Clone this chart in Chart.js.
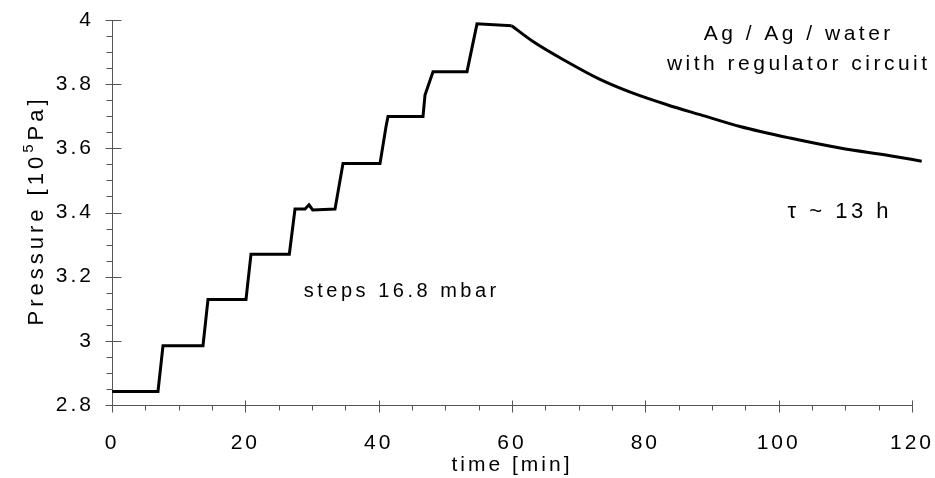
<!DOCTYPE html>
<html><head><meta charset="utf-8">
<script src="https://cdn.jsdelivr.net/npm/chart.js@4"></script>
<style>html,body{margin:0;padding:0;background:#fff}#wrap{width:935px;height:478px}</style>
</head><body><div id="wrap"><canvas id="c" width="935" height="478"></canvas></div>
<script>
// ---- data ----
// stepped filling phase (min, 10^5 Pa)
const stepTime = [0, 6.9, 7.65, 13.65, 14.4, 20.1, 20.85, 26.6, 27.45, 28.95, 29.55, 30.1, 33.45, 34.65,
  40.2, 41.1, 41.4, 46.65, 46.95, 48.15, 53.25, 54.75, 59.95];
const stepPressure = [2.842, 2.842, 2.985, 2.985, 3.129, 3.129, 3.270, 3.270, 3.411, 3.411, 3.424, 3.408, 3.411, 3.553,
  3.553, 3.667, 3.699, 3.699, 3.766, 3.839, 3.839, 3.988, 3.982];
// relaxation phase
const decayTime = [59.95, 63.15, 68.25, 73.2, 78.15, 83.25, 88.2, 94.2, 101.7, 109.2, 116.7, 121.45];
const decayPressure = [3.982, 3.933, 3.870, 3.815, 3.772, 3.736, 3.705, 3.668, 3.632, 3.601, 3.577, 3.560];

const xTickValues = [0, 20, 40, 60, 80, 100, 120];
const xTickLabels = ['0', '20', '40', '60', '80', '100', '120'];
const yTickValues = [2.8, 3, 3.2, 3.4, 3.6, 3.8, 4];
const yTickLabels = ['2.8', '3', '3.2', '3.4', '3.6', '3.8', '4'];
const xMinorStep = 5;
const yMinorStep = 0.05;
const xTitle = 'time [min]';
const yTitleParts = ['Pressure [10', '5', 'Pa]'];
const noteTexts = ['Ag / Ag / water', 'with regulator circuit', '\u03C4 ~ 13 h', 'steps 16.8 mbar'];

// ---- chart ----
const FONT = "'Liberation Sans', Arial, sans-serif";
const LS = 3;
const toPoints = (ts, ps) => ts.map((t, i) => ({x: t, y: ps[i]}));

const spacingPlugin = {
  id: 'spacing',
  beforeLayout(chart) { chart.ctx.letterSpacing = LS + 'px'; },
  beforeDraw(chart) { chart.ctx.letterSpacing = LS + 'px'; }
};

const tickPlugin = {
  id: 'minorTicks',
  afterDraw(chart) {
    const {ctx, scales: {x, y}, chartArea: a} = chart;
    ctx.save();
    ctx.strokeStyle = '#555';
    ctx.lineWidth = 1;
    ctx.beginPath();
    const ax = Math.round(a.left) + 0.5;
    const ay = Math.round(a.bottom) + 0.5;
    for (let v = y.min; v <= y.max + 1e-6; v += yMinorStep) {
      const py = Math.round(y.getPixelForValue(v)) + 0.5;
      const major = yTickValues.some(t => Math.abs(t - v) < 1e-6);
      ctx.moveTo(ax - (major ? 7 : 6), py);
      ctx.lineTo(ax + (major ? 9 : 0), py);
    }
    for (let v = x.min; v <= x.max + 1e-6; v += xMinorStep) {
      const px = Math.round(x.getPixelForValue(v)) + 0.5;
      const major = xTickValues.some(t => Math.abs(t - v) < 1e-6);
      ctx.moveTo(px, ay - (major ? 5 : 0));
      ctx.lineTo(px, ay + (major ? 7 : 5));
    }
    ctx.stroke();
    ctx.restore();
  }
};

const notesPlugin = {
  id: 'notes',
  afterDraw(chart) {
    const ctx = chart.ctx;
    const a = chart.chartArea;
    ctx.save();
    ctx.fillStyle = '#000';
    ctx.textAlign = 'center';
    ctx.textBaseline = 'alphabetic';
    const draw = (txt, cx, by, size, ls) => {
      ctx.letterSpacing = ls + 'px';
      ctx.font = size + 'px ' + FONT;
      ctx.fillText(txt, cx + ls / 2, by);
    };
    draw(noteTexts[0], 797, 40, 21, 3.5);
    draw(noteTexts[1], 797, 70, 21, 3.5);
    draw(noteTexts[2], 838, 218, 22, 3.5);
    draw(noteTexts[3], 400, 297, 20, 3.5);

    // y-axis title with superscript, rotated
    const ls = 4;
    ctx.letterSpacing = ls + 'px';
    ctx.textAlign = 'left';
    const big = '22px ' + FONT, small = '15px ' + FONT;
    ctx.font = big; const w0 = ctx.measureText(yTitleParts[0]).width;
    ctx.font = small; const w1 = ctx.measureText(yTitleParts[1]).width;
    ctx.font = big; const w2 = ctx.measureText(yTitleParts[2]).width - ls;
    const total = w0 + w1 + w2;
    ctx.translate(43, (a.top + a.bottom) / 2);
    ctx.rotate(-Math.PI / 2);
    let px = -total / 2;
    ctx.font = big; ctx.fillText(yTitleParts[0], px, 0); px += w0;
    ctx.font = small; ctx.fillText(yTitleParts[1], px, -10); px += w1;
    ctx.font = big; ctx.fillText(yTitleParts[2], px, 0);
    ctx.restore();
  }
};

const lineStyle = {borderColor: '#000', borderWidth: 3, pointRadius: 0, fill: false, clip: false};

new Chart(document.getElementById('c'), {
  type: 'line',
  data: {
    datasets: [
      Object.assign({data: toPoints(stepTime, stepPressure), tension: 0}, lineStyle),
      Object.assign({data: toPoints(decayTime, decayPressure), cubicInterpolationMode: 'monotone'}, lineStyle)
    ]
  },
  options: {
    responsive: false,
    animation: false,
    events: [],
    layout: {padding: {top: 20, right: 23, left: 0, bottom: 0}},
    plugins: {legend: {display: false}, tooltip: {enabled: false}},
    scales: {
      x: {
        type: 'linear',
        min: 0, max: 120,
        afterFit(s) { s.height = 73; s.paddingLeft = 0; s.paddingRight = 0; },
        afterBuildTicks(s) { s.ticks = xTickValues.map(v => ({value: v})); },
        ticks: {
          color: '#000', font: {family: FONT, size: 21}, padding: 18, maxRotation: 0,
          callback: (v) => xTickLabels[xTickValues.indexOf(v)]
        },
        grid: {display: false},
        border: {display: true, color: '#555', width: 1},
        title: {display: true, text: xTitle, color: '#000', font: {family: FONT, size: 21}, padding: {top: 0, bottom: 0}}
      },
      y: {
        type: 'linear',
        min: 2.8, max: 4,
        afterFit(s) { s.width = 112; s.paddingTop = 0; s.paddingBottom = 0; },
        afterBuildTicks(s) { s.ticks = yTickValues.map(v => ({value: v})); },
        ticks: {
          color: '#000', font: {family: FONT, size: 21}, padding: 10,
          callback: (v) => yTickLabels[yTickValues.findIndex(t => Math.abs(t - v) < 1e-6)]
        },
        grid: {display: false},
        border: {display: true, color: '#555', width: 1},
        title: {display: false}
      }
    }
  },
  plugins: [spacingPlugin, tickPlugin, notesPlugin]
});
</script>
</body></html>
